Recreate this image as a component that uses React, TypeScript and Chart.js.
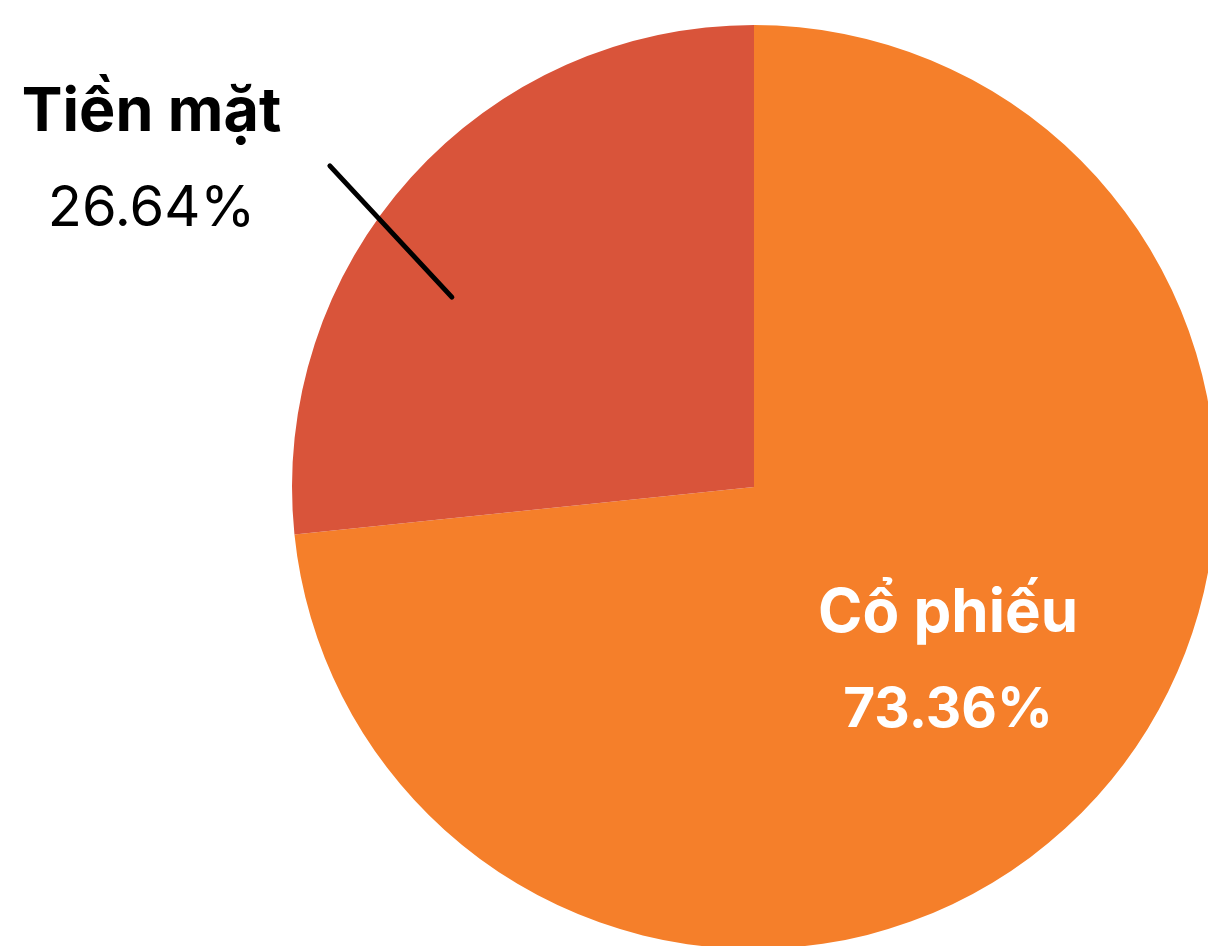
import React, { useEffect, useRef } from "react";
import { Chart, registerables } from "chart.js";

Chart.register(...registerables);

const categories = ["Cổ phiếu", "Tiền mặt"];
const values = [73.36, 26.64];
const colors = ["#F57F2A", "#D9543A"];
const valueLabels = ["73.36%", "26.64%"];

const FONT = "Inter, 'Noto Sans', sans-serif";

const labelPlugin = {
  id: "pieLabels",
  afterDatasetsDraw(chart: any) {
    const ctx = chart.ctx;
    const meta = chart.getDatasetMeta(0);
    const arc0 = meta.data[0];
    const { x: cx, y: cy, outerRadius: R } = arc0.getProps(["x", "y", "outerRadius"], true);
    ctx.save();
    ctx.textAlign = "center";
    ctx.textBaseline = "alphabetic";

    // Inside label (Cổ phiếu)
    ctx.fillStyle = "#ffffff";
    const ix = cx + 0.42 * R;
    ctx.font = `bold 60px ${FONT}`;
    ctx.fillText(categories[0], ix, cy + 0.314 * R);
    ctx.font = `bold 55px ${FONT}`;
    ctx.fillText(valueLabels[0], ix, cy + 0.519 * R);

    // Leader line for Tiền mặt
    ctx.strokeStyle = "#000000";
    ctx.lineWidth = 5;
    ctx.lineCap = "round";
    ctx.beginPath();
    ctx.moveTo(cx - 0.654 * R, cy - 0.411 * R);
    ctx.lineTo(cx - 0.918 * R, cy - 0.695 * R);
    ctx.stroke();

    // Outside label (Tiền mặt)
    ctx.fillStyle = "#000000";
    const ox = cx - 1.304 * R;
    ctx.font = `bold 61px ${FONT}`;
    ctx.fillText(categories[1], ox, cy - 0.771 * R);
    ctx.font = `normal 56px ${FONT}`;
    ctx.fillText(valueLabels[1], ox, cy - 0.565 * R);
    ctx.restore();
  },
};

export default function App() {
  const ref = useRef<HTMLCanvasElement | null>(null);
  useEffect(() => {
    if (!ref.current) return;
    const chart = new Chart(ref.current, {
      type: "pie",
      data: {
        labels: categories,
        datasets: [
          {
            data: values,
            backgroundColor: colors,
            borderWidth: 0,
          },
        ],
      },
      options: {
        responsive: false,
        animation: false,
        layout: { padding: { top: 25, bottom: 25, left: 0, right: 0 } },
        plugins: {
          legend: { display: false },
          tooltip: { enabled: false },
        },
      },
      plugins: [labelPlugin],
    });
    return () => chart.destroy();
  }, []);
  return (
    <div
      style={{
        position: "fixed",
        left: 0,
        top: 0,
        width: 1208,
        height: 946,
        overflow: "hidden",
        background: "#ffffff",
      }}
    >
      <canvas
        ref={ref}
        width={1508}
        height={974}
        style={{ position: "absolute", left: 0, top: 0, width: 1508, height: 974 }}
      />
    </div>
  );
}
